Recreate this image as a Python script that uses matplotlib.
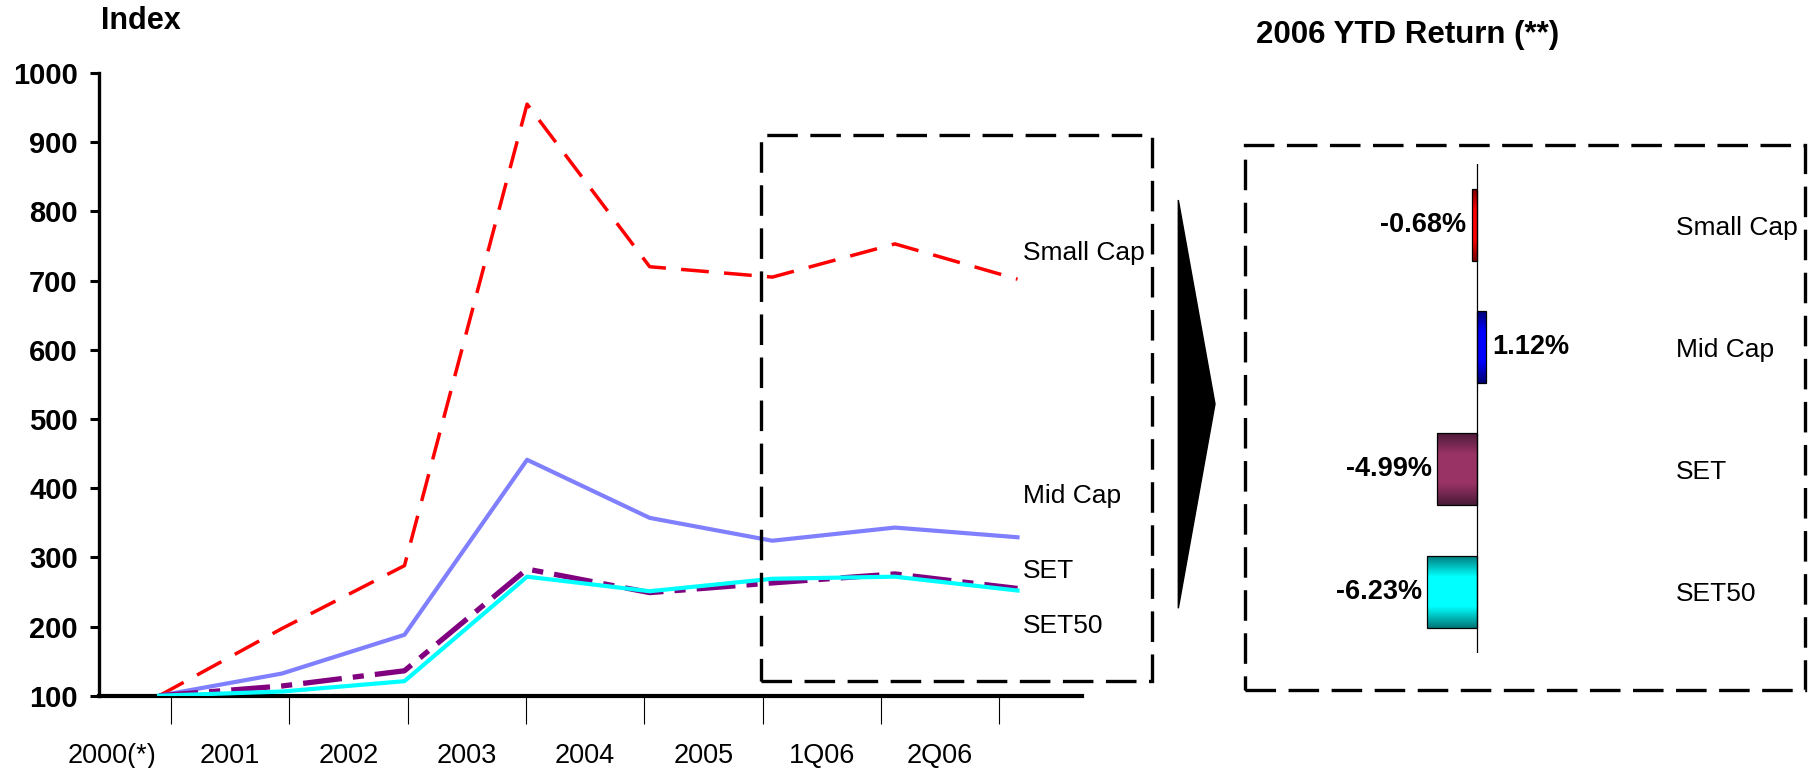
import matplotlib
matplotlib.use('Agg')
import matplotlib.pyplot as plt
import numpy as np
from matplotlib.patches import Rectangle, Polygon
from matplotlib.colors import to_rgb

plt.rcParams['font.family'] = ['Liberation Sans', 'DejaVu Sans']
plt.rcParams['lines.scale_dashes'] = False

# ---------------- data ----------------
periods = ['2000(*)', '2001', '2002', '2003', '2004', '2005', '1Q06', '2Q06']
small_cap = [100, 197, 288, 955, 720, 705, 753, 702]
mid_cap = [100, 132, 188, 441, 357, 324, 343, 329]
set_index = [100, 114, 136, 283, 249, 263, 276, 255]
set50 = [100, 106, 121, 272, 251, 269, 272, 252]
y_ticks = list(range(100, 1001, 100))
series_names = ['Small Cap', 'Mid Cap', 'SET', 'SET50']

ytd_names = ['Small Cap', 'Mid Cap', 'SET', 'SET50']
ytd_returns = [-0.68, 1.12, -4.99, -6.23]

# ---------------- figure ----------------
W, H = 1812, 768
fig = plt.figure(figsize=(W / 100, H / 100), dpi=100)


def fx(px):
    return px / W


def fy(py):
    return 1 - py / H


# ---------------- left line chart ----------------
ax = fig.add_axes([fx(99.3), fy(695.7), (1082 - 99.3) / W, (695.7 - 73) / H])
x = np.arange(len(periods))
ax.plot(x, small_cap, color='#FF0000', lw=2.5, ls=(0, (20, 11)), zorder=3)
ax.plot(x, mid_cap, color='#8080FF', lw=3.0, zorder=4)
ax.plot(x, set_index, color='#800080', lw=3.8, ls=(0, (28, 8, 8, 8)), zorder=5)
ax.plot(x, set50, color='#00FFFF', lw=3.0, zorder=6)

ax.set_xlim(-0.489, 7.526)
ax.set_ylim(100, 1000)

for s in ['top', 'right']:
    ax.spines[s].set_visible(False)
ax.spines['left'].set_linewidth(2.4)
ax.spines['bottom'].set_linewidth(3.0)

ax.set_yticks(y_ticks)
ax.set_yticklabels([str(v) for v in y_ticks], fontsize=21, fontweight='bold')
ax.tick_params(axis='y', direction='out', length=6.5, width=2.2, pad=9)

major = 0.0954 + 0.965 * np.arange(len(periods))
ax.set_xticks(major)
ax.set_xticklabels([])
ax.set_xticks(major - 0.4825, minor=True)
ax.set_xticklabels(periods, minor=True, fontsize=19.5)
ax.tick_params(axis='x', which='major', direction='out', length=20, width=0.8)
ax.tick_params(axis='x', which='minor', length=0, pad=34)

label_y = [740, 389, 280, 200.5]
for name, yv in zip(series_names, label_y):
    ax.text(7.045, yv, name, fontsize=19, ha='left', va='center', clip_on=False)

# ---------------- right bar chart ----------------
ax2 = fig.add_axes([fx(1300), fy(652.7), (1660 - 1300) / W, (652.7 - 164) / H])
ypos = np.arange(len(ytd_names))
base_cols = ['#FF0000', '#0000FF', '#993366', '#00FFFF']
dark_cols = ['#7a0000', '#000070', '#4a1a38', '#007878']
bars = ax2.barh(ypos, ytd_returns, height=0.59, color=base_cols, zorder=2)
for b, dc, bc in zip(bars, dark_cols, base_cols):
    t = np.linspace(0, 1, 80)
    w = np.clip((1 - np.abs(2 * t - 1)) * 1.7, 0, 1)
    d = np.array(to_rgb(dc))
    c = np.array(to_rgb(bc))
    img = (d[None, :] * (1 - w[:, None]) + c[None, :] * w[:, None])[:, None, :]
    x0, y0 = b.get_x(), b.get_y()
    im = ax2.imshow(img, extent=[x0, x0 + b.get_width(), y0 + b.get_height(), y0],
                    aspect='auto', zorder=3, interpolation='bilinear')
    im.set_clip_path(b)
ax2.barh(ypos, ytd_returns, height=0.59, fill=False, edgecolor='black', lw=0.9, zorder=4)
ax2.axvline(0, color='black', lw=0.9, zorder=5)
ax2.set_xlim(-22.16, 22.84)
ax2.set_ylim(3.5, -0.5)

for i, v in enumerate(ytd_returns):
    off = 4 if v > 0 else -4
    ax2.annotate(f'{v:.2f}%', xy=(v, i), xytext=(off, 0), textcoords='offset points',
                 ha='left' if v > 0 else 'right', va='center', fontsize=19.5,
                 fontweight='bold', zorder=6)

for s in ax2.spines.values():
    s.set_visible(False)
ax2.set_xticks([])
ax2.yaxis.tick_right()
ax2.set_yticks(ypos)
ax2.set_yticklabels(ytd_names, fontsize=19)
ax2.tick_params(axis='y', length=0, pad=11.5)

# ---------------- decorations ----------------
box_ls = (0, (22, 9))
fig.add_artist(Rectangle((fx(760.7), fy(680.6)), (1152.3 - 760.7) / W, (680.6 - 135.2) / H,
                         transform=fig.transFigure, fill=False, ec='black', lw=2.4, ls=box_ls))
fig.add_artist(Rectangle((fx(1245), fy(690)), (1805 - 1245) / W, (690 - 145) / H,
                         transform=fig.transFigure, fill=False, ec='black', lw=2.4, ls=box_ls))
fig.add_artist(Polygon([(fx(1178.3), fy(200)), (fx(1215), fy(404)), (fx(1178.3), fy(608.3))],
                       closed=True, transform=fig.transFigure, fc='black', ec='black', lw=1))

fig.text(fx(101), fy(21), 'Index', fontsize=22, fontweight='bold', ha='left', va='center')
fig.text(fx(1408), fy(35), '2006 YTD Return (**)', fontsize=22.5, fontweight='bold',
         ha='center', va='center')

fig.savefig('out.png', dpi=100)
